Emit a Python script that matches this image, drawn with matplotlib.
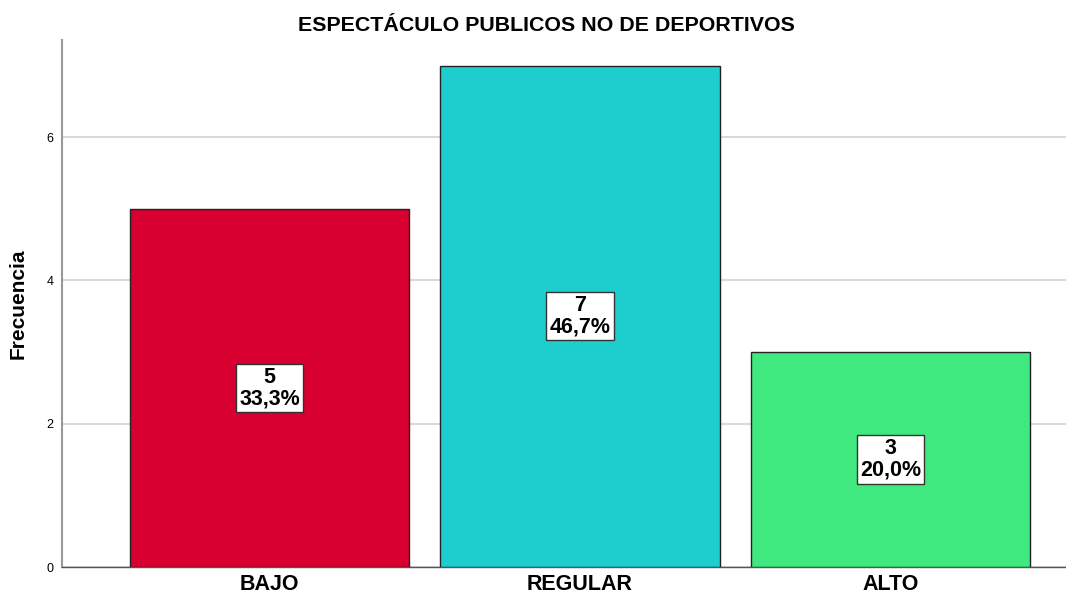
import matplotlib.pyplot as plt

plt.rcParams['font.family'] = ['Liberation Sans', 'DejaVu Sans']

categorias = ['BAJO', 'REGULAR', 'ALTO']
frecuencias = [5, 7, 3]
porcentajes = ['33,3%', '46,7%', '20,0%']
colores = ['#D70030', '#1ECECE', '#40E880']

fig = plt.figure(figsize=(10.66, 5.97), dpi=100)
ax = fig.add_axes([62 / 1066, 30 / 597, 1004 / 1066, 527 / 597])

x = range(len(categorias))
ax.bar(x, frecuencias, width=0.8986, color=colores, edgecolor='#222222', linewidth=1, zorder=3)

for i, f in enumerate(frecuencias):
    ax.text(i, f / 2, f'{f}\n{porcentajes[i]}', ha='center', va='center', fontsize=15.5,
            fontweight='bold', linespacing=1.02, zorder=4,
            bbox=dict(boxstyle='square,pad=0.14', facecolor='white', edgecolor='#333333', linewidth=1))

ax.set_xlim(-0.668, 2.565)
ax.set_ylim(0, 7.356)
ax.set_yticks([0, 2, 4, 6])
ax.set_xticks(list(x))
ax.set_xticklabels(categorias, fontsize=15.5, fontweight='bold')
ax.tick_params(axis='x', length=0, pad=5)
ax.tick_params(axis='y', length=0, labelsize=9, pad=6)
ax.yaxis.grid(True, color='#d9d9d9', linewidth=1.5, zorder=0)
ax.set_axisbelow(True)

for s in ['top', 'right']:
    ax.spines[s].set_visible(False)
ax.spines['left'].set_color('#999999')
ax.spines['left'].set_linewidth(1.5)
ax.spines['bottom'].set_color('#555555')
ax.spines['bottom'].set_linewidth(1)

ax.set_ylabel('Frecuencia', fontsize=15, fontweight='bold', labelpad=14)
fig.text(0.5127, 0.957, 'ESPECTÁCULO PUBLICOS NO DE DEPORTIVOS', ha='center', va='center',
         fontsize=15.4, fontweight='bold')

fig.savefig('out.png', dpi=100)
